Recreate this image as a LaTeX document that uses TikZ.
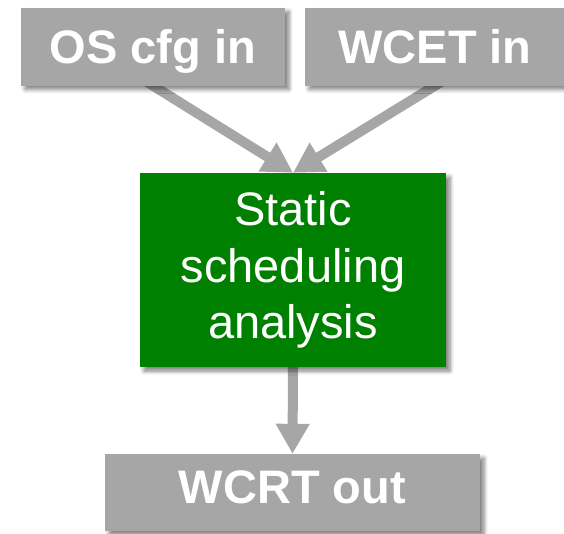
\documentclass[tikz,border=0pt]{standalone}
\usepackage{fontspec}
\setmainfont{Liberation Sans}
\usetikzlibrary{
    arrows.meta,
    positioning,
    shadows.blur,
    backgrounds
}

\definecolor{boxgray}{HTML}{A6A6A6}
\definecolor{anagreen}{HTML}{008000}

\begin{document}
\begin{tikzpicture}[x=1pt, y=1pt,
    >={Triangle[width=32pt, length=30pt]},
    dropshadow/.style={blur shadow={shadow xshift=4pt, shadow yshift=-4pt,
        shadow blur radius=4pt, shadow blur steps=6, shadow opacity=50}},
    iobox/.style={fill=boxgray, text=white, inner sep=0pt,
        text height=34pt, text depth=0pt,
        font=\bfseries\fontsize{47}{52}\selectfont, dropshadow},
    toolbox/.style={fill=anagreen, text=white, inner sep=0pt, align=center,
        font=\fontsize{47}{56.5}\selectfont, dropshadow},
    flow/.style={->, boxgray, line width=10pt}]

\useasboundingbox (0,0) rectangle (564,-533);

% inputs
\node[iobox, minimum width=264pt, minimum height=78pt] (oscfg) at (153,-46.5) {OS cfg in};
\node[iobox, minimum width=260pt, minimum height=78pt] (wcet) at (435,-46.5) {WCET in};

% analysis step
\node[toolbox, minimum width=306pt, minimum height=194pt] (sched) at (293,-270)
    {Static\\scheduling\\analysis};

% output
\node[iobox, text depth=13pt, minimum width=375pt, minimum height=77pt] (wcrt) at (292.5,-492.5) {WCRT out};

% arrows behind the boxes
\begin{scope}[on background layer]
    \draw[flow, shorten <=-8pt] (oscfg.south) -- (sched.north);
    \draw[flow, shorten <=-8pt] (wcet.south) -- (sched.north);
    \draw[flow, shorten <=-8pt] (sched.south) -- (wcrt.north);
\end{scope}

\end{tikzpicture}
\end{document}
